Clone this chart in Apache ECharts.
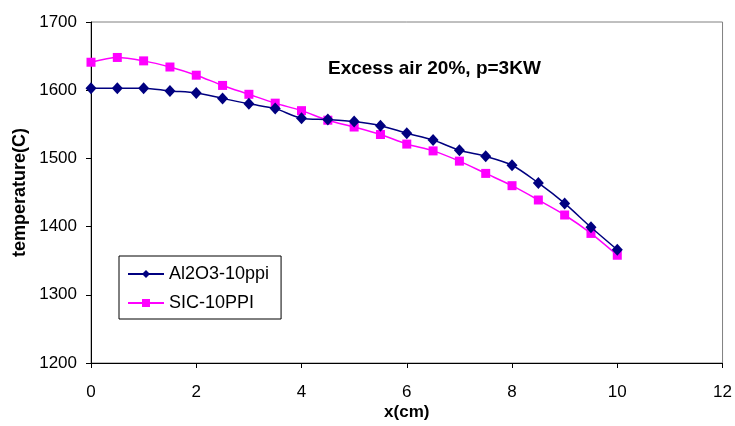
<!DOCTYPE html>
<html>
<head>
<meta charset="utf-8">
<script src="https://cdn.jsdelivr.net/npm/echarts@6/dist/echarts.min.js"></script>
<style>
html,body{margin:0;padding:0;background:#fff;}
#c{width:735px;height:426px;}
</style>
</head>
<body>
<div id="c"></div>
<script>
var xValues = [0,0.5,1,1.5,2,2.5,3,3.5,4,4.5,5,5.5,6,6.5,7,7.5,8,8.5,9,9.5,10];
var al2o3 = [1603,1603,1603,1599,1596,1588,1580,1573,1559,1557,1554,1548,1537,1527,1512,1503,1490,1464,1434,1399,1366];
var sic = [1641,1648,1643,1634,1622,1607,1594,1581,1570,1556,1546,1535,1521,1511,1496,1478,1460,1439,1417,1390,1358];
var seriesNames = ['Al2O3-10ppi','SIC-10PPI'];
var titleText = 'Excess air 20%, p=3KW';

function pairs(ys){ return xValues.map(function(x,i){ return [x, ys[i]]; }); }

var FONT = 'Liberation Sans, Arial, sans-serif';
var chart = echarts.init(document.getElementById('c'), null, {renderer:'canvas'});
chart.setOption({
  animation:false,
  backgroundColor:'#fff',
  textStyle:{fontFamily:FONT},
  title:{
    text:titleText, left:323, top:54,
    textStyle:{fontFamily:FONT, fontWeight:'bold', fontSize:19, color:'#000'}
  },
  legend:{
    orient:'vertical', left:119, top:256,
    backgroundColor:'#fff', borderColor:'#000', borderWidth:1,
    padding:[9,12,7,8], itemGap:11, itemWidth:36, itemHeight:10,
    textStyle:{fontFamily:FONT, fontSize:18, color:'#000'},
    data:seriesNames
  },
  grid:{left:91, right:11, top:22, bottom:63, show:true, borderColor:'#808080', borderWidth:1, backgroundColor:'#fff'},
  xAxis:{
    type:'value', min:0, max:12, interval:2,
    name:'x(cm)', nameLocation:'middle', nameGap:41, nameMoveOverlap:false,
    nameTextStyle:{fontFamily:FONT, fontWeight:'bold', fontSize:17, color:'#000'},
    axisLine:{show:true, lineStyle:{color:'#000', width:1}},
    axisTick:{show:true, inside:false, length:5, lineStyle:{color:'#000'}},
    axisLabel:{fontFamily:FONT, fontSize:17, color:'#000', margin:21, formatter:function(v){return String(v);}},
    splitLine:{show:false}
  },
  yAxis:{
    type:'value', min:1200, max:1700, interval:100,
    name:'temperature(C)', nameLocation:'middle', nameGap:62, nameRotate:90, nameMoveOverlap:false,
    nameTextStyle:{fontFamily:FONT, fontWeight:'bold', fontSize:18, color:'#000'},
    axisLine:{show:true, lineStyle:{color:'#000', width:1}},
    axisTick:{show:true, inside:false, length:5, lineStyle:{color:'#000'}},
    axisLabel:{fontFamily:FONT, fontSize:17, color:'#000', margin:14, formatter:function(v){return String(v);}},
    splitLine:{show:false}
  },
  series:[
    {
      name:seriesNames[0], type:'line', data:pairs(al2o3), smooth:0.3,
      symbol:'diamond', symbolSize:[11,12], showAllSymbol:true,
      lineStyle:{color:'#000080', width:1.5},
      itemStyle:{color:'#000080', borderWidth:0},
      z:3
    },
    {
      name:seriesNames[1], type:'line', data:pairs(sic), smooth:0.3,
      symbol:'rect', symbolSize:9, showAllSymbol:true,
      lineStyle:{color:'#FF00FF', width:1.5},
      itemStyle:{color:'#FF00FF', borderWidth:0},
      z:2
    }
  ]
});
</script>
</body>
</html>
